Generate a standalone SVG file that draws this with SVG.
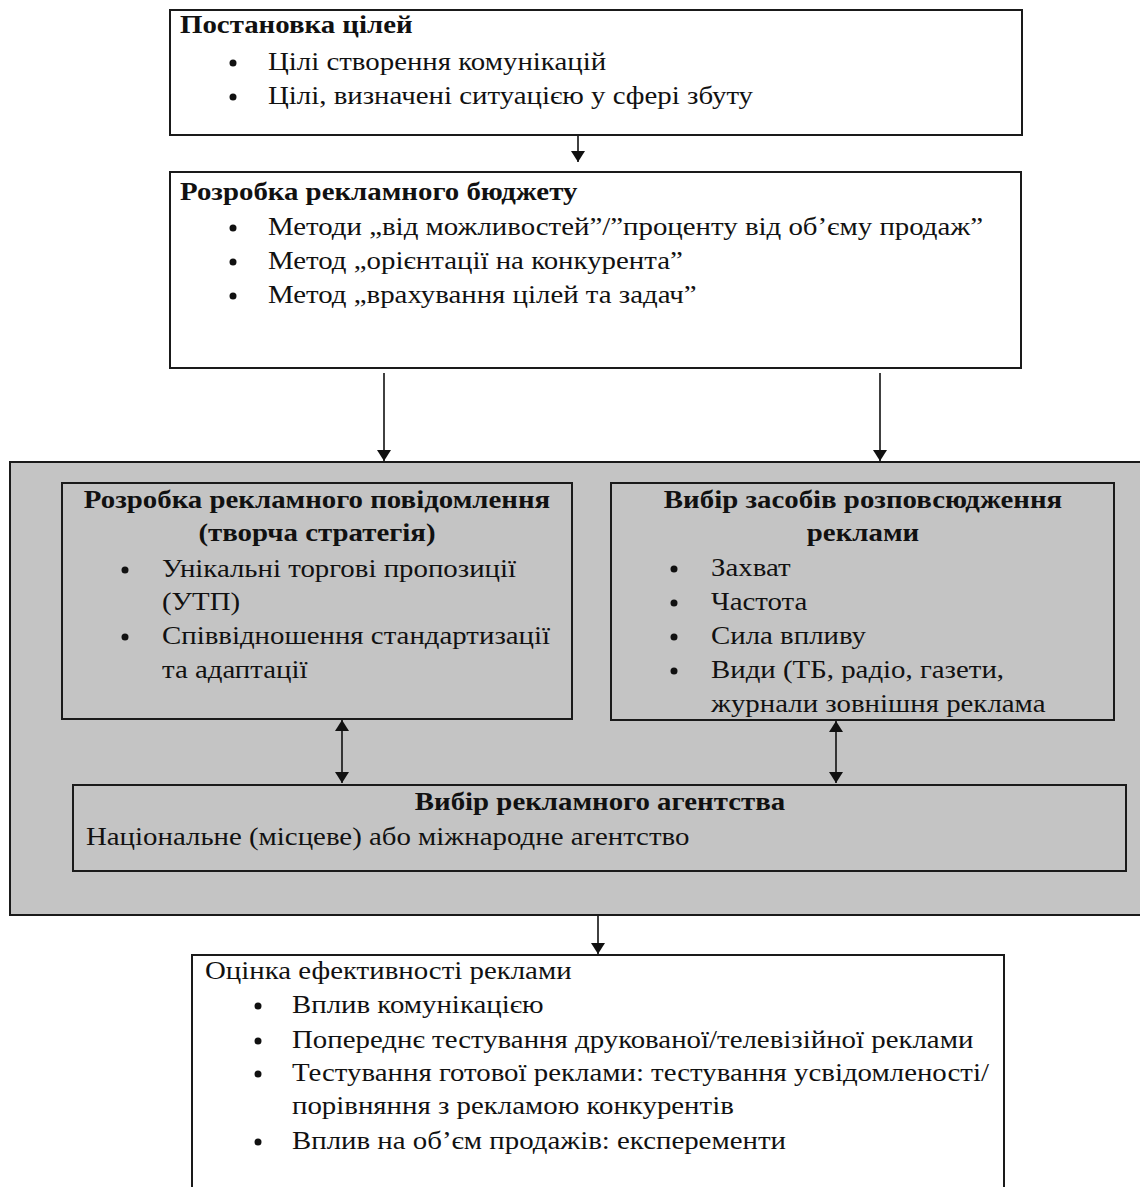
<svg xmlns="http://www.w3.org/2000/svg" width="1140" height="1187" viewBox="0 0 1140 1187">
  <style>
    .box { fill: #ffffff; stroke: #1a1a1a; stroke-width: 2; }
    .gbox { fill: #c4c4c4; stroke: #1a1a1a; stroke-width: 2; }
    .t { font-family: "Liberation Serif", "Times New Roman", serif; font-size: 26px; fill: #111111; }
    .b { font-family: "Liberation Serif", "Times New Roman", serif; font-size: 26px; font-weight: bold; fill: #111111; }
    .c { text-anchor: middle; }
    .dot { fill: #111111; }
    .link { stroke: #111111; stroke-width: 1.6; fill: none; }
  </style>
  <defs>
    <marker id="head" viewBox="0 0 11 14" refX="11" refY="7" markerWidth="11" markerHeight="14" markerUnits="userSpaceOnUse" orient="auto-start-reverse">
      <path d="M0,0 L11,7 L0,14 Z" fill="#111111"/>
    </marker>
  </defs>

  <rect width="1140" height="1187" fill="#ffffff"/>

  <!-- shaded container for message, media and agency; text below is widened by 1.11 around each anchor -->
  <g id="campaign-area">
    <rect class="gbox" x="10" y="462" width="1140" height="453"/>
  </g>

  <g id="goals">
    <rect class="box" x="170" y="10" width="852" height="125"/>
    <text class="b" x="180" y="33" transform="matrix(1.11 0 0 1 -19.8 0)">Постановка цілей</text>
    <circle class="dot" cx="233" cy="63" r="3.5"/>
    <text class="t" x="268" y="70" transform="matrix(1.11 0 0 1 -29.48 0)">Цілі створення комунікацій</text>
    <circle class="dot" cx="233" cy="97" r="3.5"/>
    <text class="t" x="268" y="104" transform="matrix(1.11 0 0 1 -29.48 0)">Цілі, визначені ситуацією у сфері збуту</text>
  </g>

  <g id="budget">
    <rect class="box" x="170" y="172" width="851" height="196"/>
    <text class="b" x="180" y="200" transform="matrix(1.11 0 0 1 -19.8 0)">Розробка рекламного бюджету</text>
    <circle class="dot" cx="233" cy="228" r="3.5"/>
    <text class="t" x="268" y="235" transform="matrix(1.11 0 0 1 -29.48 0)">Методи „від можливостей”/”проценту від об’єму продаж”</text>
    <circle class="dot" cx="233" cy="262" r="3.5"/>
    <text class="t" x="268" y="269" transform="matrix(1.11 0 0 1 -29.48 0)">Метод „орієнтації на конкурента”</text>
    <circle class="dot" cx="233" cy="296" r="3.5"/>
    <text class="t" x="268" y="303" transform="matrix(1.11 0 0 1 -29.48 0)">Метод „врахування цілей та задач”</text>
  </g>

  <g id="message">
    <rect class="gbox" x="62" y="483" width="510" height="236"/>
    <text class="b c" x="317" y="508" transform="matrix(1.11 0 0 1 -34.87 0)">Розробка рекламного повідомлення</text>
    <text class="b c" x="317" y="541" transform="matrix(1.11 0 0 1 -34.87 0)">(творча стратегія)</text>
    <circle class="dot" cx="125" cy="570" r="3.5"/>
    <text class="t" x="162" y="577" transform="matrix(1.11 0 0 1 -17.82 0)">Унікальні торгові пропозиції</text>
    <text class="t" x="162" y="610" transform="matrix(1.11 0 0 1 -17.82 0)">(УТП)</text>
    <circle class="dot" cx="125" cy="637" r="3.5"/>
    <text class="t" x="162" y="644" transform="matrix(1.11 0 0 1 -17.82 0)">Співвідношення стандартизації</text>
    <text class="t" x="162" y="678" transform="matrix(1.11 0 0 1 -17.82 0)">та адаптації</text>
  </g>

  <g id="media">
    <rect class="gbox" x="611" y="483" width="503" height="237"/>
    <text class="b c" x="863" y="508" transform="matrix(1.11 0 0 1 -94.93 0)">Вибір засобів розповсюдження</text>
    <text class="b c" x="863" y="541" transform="matrix(1.11 0 0 1 -94.93 0)">реклами</text>
    <circle class="dot" cx="674" cy="569" r="3.5"/>
    <text class="t" x="711" y="576" transform="matrix(1.11 0 0 1 -78.21 0)">Захват</text>
    <circle class="dot" cx="674" cy="603" r="3.5"/>
    <text class="t" x="711" y="610" transform="matrix(1.11 0 0 1 -78.21 0)">Частота</text>
    <circle class="dot" cx="674" cy="637" r="3.5"/>
    <text class="t" x="711" y="644" transform="matrix(1.11 0 0 1 -78.21 0)">Сила впливу</text>
    <circle class="dot" cx="674" cy="671" r="3.5"/>
    <text class="t" x="711" y="678" transform="matrix(1.11 0 0 1 -78.21 0)">Види (ТБ, радіо, газети,</text>
    <text class="t" x="711" y="712" transform="matrix(1.11 0 0 1 -78.21 0)">журнали зовнішня реклама</text>
  </g>

  <g id="agency">
    <rect class="gbox" x="73" y="785" width="1053" height="86"/>
    <text class="b c" x="600" y="810" transform="matrix(1.11 0 0 1 -66 0)">Вибір рекламного агентства</text>
    <text class="t" x="86" y="845" transform="matrix(1.11 0 0 1 -9.46 0)">Національне (місцеве) або міжнародне агентство</text>
  </g>

  <g id="evaluation">
    <rect class="box" x="192" y="955" width="812" height="250"/>
    <text class="t" x="205" y="979" transform="matrix(1.11 0 0 1 -22.55 0)">Оцінка ефективності реклами</text>
    <circle class="dot" cx="258" cy="1006" r="3.5"/>
    <text class="t" x="292" y="1013" transform="matrix(1.11 0 0 1 -32.12 0)">Вплив комунікацією</text>
    <circle class="dot" cx="258" cy="1041" r="3.5"/>
    <text class="t" x="292" y="1048" transform="matrix(1.11 0 0 1 -32.12 0)">Попереднє тестування друкованої/телевізійної реклами</text>
    <circle class="dot" cx="258" cy="1074" r="3.5"/>
    <text class="t" x="292" y="1081" transform="matrix(1.11 0 0 1 -32.12 0)">Тестування готової реклами: тестування усвідомленості/</text>
    <text class="t" x="292" y="1114" transform="matrix(1.11 0 0 1 -32.12 0)">порівняння з рекламою конкурентів</text>
    <circle class="dot" cx="258" cy="1142" r="3.5"/>
    <text class="t" x="292" y="1149" transform="matrix(1.11 0 0 1 -32.12 0)">Вплив на об’єм продажів: експеременти</text>
  </g>

  <g id="connectors">
    <line class="link" x1="578" y1="136" x2="578" y2="162" marker-end="url(#head)"/>
    <line class="link" x1="384" y1="373" x2="384" y2="461" marker-end="url(#head)"/>
    <line class="link" x1="880" y1="373" x2="880" y2="461" marker-end="url(#head)"/>
    <line class="link" x1="342" y1="720" x2="342" y2="783" marker-start="url(#head)" marker-end="url(#head)"/>
    <line class="link" x1="836" y1="721" x2="836" y2="783" marker-start="url(#head)" marker-end="url(#head)"/>
    <line class="link" x1="598" y1="916" x2="598" y2="954" marker-end="url(#head)"/>
  </g>
</svg>
